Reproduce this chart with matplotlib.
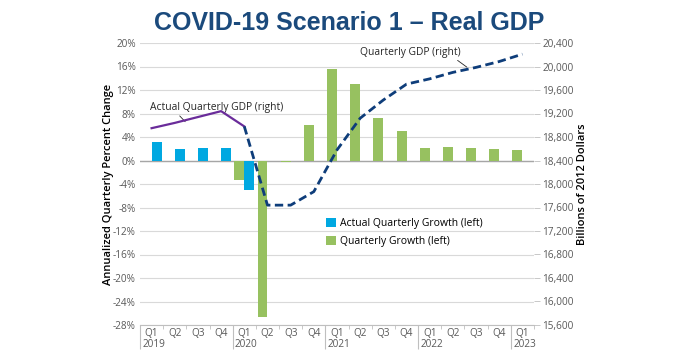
import matplotlib.pyplot as plt

# Quarters Q1 2019 .. Q1 2023
quarters = ['Q1', 'Q2', 'Q3', 'Q4', 'Q1', 'Q2', 'Q3', 'Q4', 'Q1',
            'Q2', 'Q3', 'Q4', 'Q1', 'Q2', 'Q3', 'Q4', 'Q1']
years = ['2019', '2020', '2021', '2022', '2023']
year_start_idx = [0, 4, 8, 12, 16]

# Actual quarterly growth (left axis, %), Q1 2019 .. Q1 2020
actual_growth = [3.1, 2.0, 2.1, 2.1, -5.0]
# Scenario quarterly growth (left axis, %), Q1 2020 .. Q1 2023
scenario_growth = [-3.4, -26.6, -0.3, 6.0, 15.6, 13.0, 7.3, 5.1,
                   2.2, 2.35, 2.2, 2.0, 1.8]

# Actual real GDP level (right axis, billions of 2012 $), Q1 2019 .. Q1 2020
actual_gdp = [18950, 19040, 19140, 19240, 18980]
# Scenario real GDP level, Q1 2020 .. Q1 2023
scenario_gdp = [18980, 17640, 17640, 17870, 18580, 19120, 19430, 19700,
                19790, 19900, 19985, 20085, 20210]

BLUE = '#00A8E1'
GREEN = '#97C160'
PURPLE = '#6A2C9A'
NAVY = '#0E3D7A'
GRID = '#D9D9D9'
TICK = '#595959'

plt.rcParams['font.family'] = ['Open Sans', 'DejaVu Sans']

fig = plt.figure(figsize=(6.99, 3.53), dpi=100)
ax = fig.add_axes([140 / 699, 28 / 353, 394 / 699, 282 / 353])
ax2 = ax.twinx()

n = len(quarters)
x_all = list(range(n))
x_actual = x_all[:len(actual_growth)]
x_scen = x_all[4:4 + len(scenario_growth)]
bw = 0.43

ax.bar([x - bw / 2 for x in x_scen], scenario_growth, width=bw,
       color=GREEN, zorder=3, label='Quarterly Growth (left)')
ax.bar([x + bw / 2 for x in x_actual], actual_growth, width=bw,
       color=BLUE, zorder=3, label='Actual Quarterly Growth (left)')

ax.set_xlim(-0.5, n - 0.5)
ax.set_ylim(-28, 20)
yt = list(range(-28, 21, 4))
ax.set_yticks(yt)
ax.set_yticklabels([f'{v}%' for v in yt])
ax.grid(axis='y', color=GRID, linewidth=0.8, zorder=0)
ax.axhline(0, color='#A6A6A6', linewidth=1.0, zorder=2)
ax.tick_params(axis='y', length=0, pad=3, labelsize=7.2, labelcolor=TICK)

# category labels and boundary ticks
ax.set_xticks(x_all)
ax.set_xticklabels(quarters)
ax.tick_params(axis='x', length=0, pad=2, labelsize=7.2, labelcolor=TICK)
ax.set_xticks([i - 0.5 for i in range(n + 1)], minor=True)
ax.tick_params(axis='x', which='minor', length=3, color='#BFBFBF')
trans = ax.get_xaxis_transform()
for idx, yr in zip(year_start_idx, years):
    ax.vlines(idx - 0.5, -0.085, 0, transform=trans, color='#BFBFBF',
              linewidth=0.8, clip_on=False)
    ax.text(idx - 0.4, -0.068, yr, transform=trans, ha='left', va='center',
            fontsize=7.2, color=TICK)

for side in ['top', 'left', 'right']:
    ax.spines[side].set_visible(False)
ax.spines['bottom'].set_color('#BFBFBF')
ax.spines['bottom'].set_linewidth(0.8)

ax.set_ylabel('Annualized Quarterly Percent Change', fontsize=8,
              fontweight='semibold', labelpad=-1)

# right axis: GDP levels
ax2.plot(x_actual, actual_gdp, color=PURPLE, linewidth=1.6, zorder=4)
ax2.plot(x_scen, scenario_gdp, color=NAVY, linewidth=2.0,
         linestyle=(0, (3, 1.6)), zorder=4)
ax2.set_ylim(15600, 20400)
rt = list(range(15600, 20401, 400))
ax2.set_yticks(rt)
ax2.set_yticklabels([f'{v:,}' for v in rt])
ax2.tick_params(axis='y', length=4, width=0.6, color='#BFBFBF', pad=2,
                labelsize=7.2, labelcolor=TICK)
for side in ['top', 'left', 'right', 'bottom']:
    ax2.spines[side].set_visible(False)
ax2.set_ylabel('Billions of 2012 Dollars', fontsize=8,
               fontweight='semibold', labelpad=2)

# line annotations
ax2.annotate('Actual Quarterly GDP (right)', xy=(1.45, 19060),
             xytext=(-0.05, 19300), fontsize=7.4, color='#262626',
             ha='left', va='center',
             arrowprops=dict(arrowstyle='-', color='#262626', linewidth=0.6,
                             shrinkA=0, shrinkB=0, relpos=(0.2, 0.0)))
ax2.annotate('Quarterly GDP (right)', xy=(13.6, 19990),
             xytext=(9.0, 20245), fontsize=7.4, color='#262626',
             ha='left', va='center',
             arrowprops=dict(arrowstyle='-', color='#262626', linewidth=0.6,
                             shrinkA=0, shrinkB=0, relpos=(0.93, 0.0)))

# legend
handles, labels = ax.get_legend_handles_labels()
ax.legend(handles[::-1], labels[::-1], loc='upper left',
          bbox_to_anchor=(182 / 394, 0.395), frameon=False, fontsize=7.5,
          handlelength=0.9, handleheight=0.9, handletextpad=0.4,
          labelspacing=0.7, borderaxespad=0)

fig.text(0.5, 0.935, 'COVID-19 Scenario 1 \u2013 Real GDP', ha='center',
         va='center', fontsize=18, fontweight='bold', color='#1B4A7C',
         family='Liberation Sans')

fig.savefig('out.png', dpi=100)
